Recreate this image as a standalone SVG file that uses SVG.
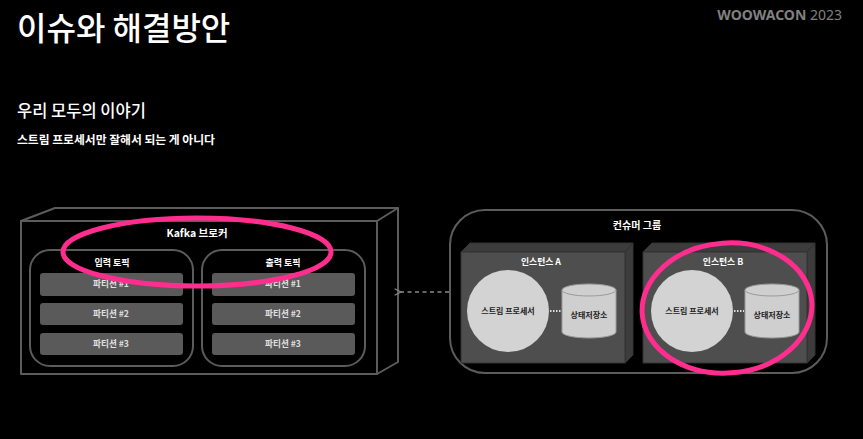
<svg xmlns="http://www.w3.org/2000/svg" width="863" height="439" viewBox="0 0 863 439">
<style>
  text { font-family: "Noto Sans CJK KR", "Noto Sans", sans-serif; }
  .wire { fill: none; stroke: #5c5c5c; stroke-width: 2; stroke-linejoin: round; }
  .bar { fill: #5a5a5a; }
  .bartxt { fill: #e0e0e0; font-size: 8.6px; font-weight: 700; text-anchor: middle; }
  .lbl { fill: #ffffff; font-weight: 700; text-anchor: middle; }
  .inst-front { fill: #4e4e4e; stroke: #333; stroke-width: 1; }
  .inst-side { fill: #3c3c3c; stroke: #333; stroke-width: 1; stroke-linejoin: round; }
  .proc { fill: #d3d3d3; }
  .cyl { fill: #cfcfcf; stroke: #9a9a9a; stroke-width: 1; }
  .dark { fill: #222; font-size: 8px; font-weight: 700; text-anchor: middle; }
  .hl { fill: none; stroke: #ff2d8d; stroke-width: 5; }
</style>
<defs>
  <marker id="chev" viewBox="0 0 10 10" refX="1" refY="5" markerWidth="8" markerHeight="8" orient="auto-start-reverse" markerUnits="userSpaceOnUse">
    <path d="M9,1 L1,5 L9,9" fill="none" stroke="#888" stroke-width="1.5"/>
  </marker>
</defs>
<rect width="863" height="439" fill="#000"/>

<g id="header">
  <text x="17" y="40" font-size="32" font-weight="500" fill="#fff">이슈와 해결방안</text>
  <text x="842" y="20" font-size="14" fill="#808080" text-anchor="end" style="font-family:'Noto Sans',sans-serif"><tspan font-weight="700">WOOWACON</tspan> 2023</text>
  <text x="17" y="117" font-size="16.5" font-weight="500" fill="#fff">우리 모두의 이야기</text>
  <text x="17" y="144" font-size="11.8" font-weight="700" fill="#fff">스트림 프로세서만 잘해서 되는 게 아니다</text>
</g>

<g id="kafka-broker">
  <path class="wire" d="M21,221 L55,208 L398,208 L377,221 Z M377,221 L398,208 L398,362 L377,374 Z"/>
  <rect class="wire" x="21" y="221" width="356" height="153"/>
  <text class="lbl" x="197" y="237" font-size="10.5">Kafka 브로커</text>
</g>

<g id="input-topic">
  <rect class="wire" x="30" y="250" width="163" height="116" rx="20"/>
  <text class="lbl" x="112" y="266" font-size="9">입력 토픽</text>
  <rect class="bar" x="40" y="273" width="143" height="23" rx="3"/>
  <text class="bartxt" x="111" y="287">파티션 #1</text>
  <rect class="bar" x="40" y="303" width="143" height="22" rx="3"/>
  <text class="bartxt" x="111" y="317">파티션 #2</text>
  <rect class="bar" x="40" y="333" width="143" height="22" rx="3"/>
  <text class="bartxt" x="111" y="347">파티션 #3</text>
</g>

<g id="output-topic">
  <rect class="wire" x="202" y="250" width="163" height="116" rx="20"/>
  <text class="lbl" x="283" y="266" font-size="9">출력 토픽</text>
  <rect class="bar" x="212" y="273" width="143" height="23" rx="3"/>
  <text class="bartxt" x="283" y="287">파티션 #1</text>
  <rect class="bar" x="212" y="303" width="143" height="22" rx="3"/>
  <text class="bartxt" x="283" y="317">파티션 #2</text>
  <rect class="bar" x="212" y="333" width="143" height="22" rx="3"/>
  <text class="bartxt" x="283" y="347">파티션 #3</text>
</g>

<g id="consumer-group">
  <rect class="wire" x="450" y="210" width="377" height="163" rx="35"/>
  <text class="lbl" x="637" y="229" font-size="10">컨슈머 그룹</text>
</g>

<g id="instance-a">
  <path class="inst-side" d="M461,252 L470,243 L633,243 L625,252 Z M625,252 L633,243 L633,355 L625,363 Z"/>
  <rect class="inst-front" x="461" y="252" width="164" height="111"/>
  <text class="lbl" x="541" y="265" font-size="8.8">인스턴스 A</text>
</g>
<g id="processor-a">
  <circle class="proc" cx="508" cy="311" r="41"/>
  <text class="dark" x="508" y="314">스트림 프로세서</text>
</g>
<g id="store-a">
  <path class="cyl" d="M562,290 A27,6 0 0 1 616,290 V332 A27,6 0 0 1 562,332 Z"/>
  <path class="cyl" d="M562,290 A27,6 0 0 0 616,290"/>
  <text class="dark" x="589" y="318">상태저장소</text>
</g>

<g id="instance-b">
  <path class="inst-side" d="M643,252 L652,243 L815,243 L807,252 Z M807,252 L815,243 L815,355 L807,363 Z"/>
  <rect class="inst-front" x="643" y="252" width="164" height="111"/>
  <text class="lbl" x="723" y="265" font-size="8.8">인스턴스 B</text>
</g>
<g id="processor-b">
  <circle class="proc" cx="692" cy="311" r="41"/>
  <text class="dark" x="692" y="314">스트림 프로세서</text>
</g>
<g id="store-b">
  <path class="cyl" d="M745,290 A27,6 0 0 1 799,290 V332 A27,6 0 0 1 745,332 Z"/>
  <path class="cyl" d="M745,290 A27,6 0 0 0 799,290"/>
  <text class="dark" x="772" y="318">상태저장소</text>
</g>

<g id="connectors">
  <line x1="449" y1="292" x2="401" y2="292" stroke="#888" stroke-width="1.5" stroke-dasharray="4 3.5" marker-end="url(#chev)"/>
  <line x1="550" y1="311" x2="561" y2="311" stroke="#ddd" stroke-width="2" stroke-dasharray="1.5 1.5"/>
  <line x1="734" y1="311" x2="744" y2="311" stroke="#ddd" stroke-width="2" stroke-dasharray="1.5 1.5"/>
</g>

<g id="highlights">
  <ellipse class="hl" cx="197" cy="252" rx="134" ry="34"/>
  <ellipse class="hl" cx="727" cy="308" rx="85" ry="65" transform="rotate(-4 727 308)"/>
</g>
</svg>
